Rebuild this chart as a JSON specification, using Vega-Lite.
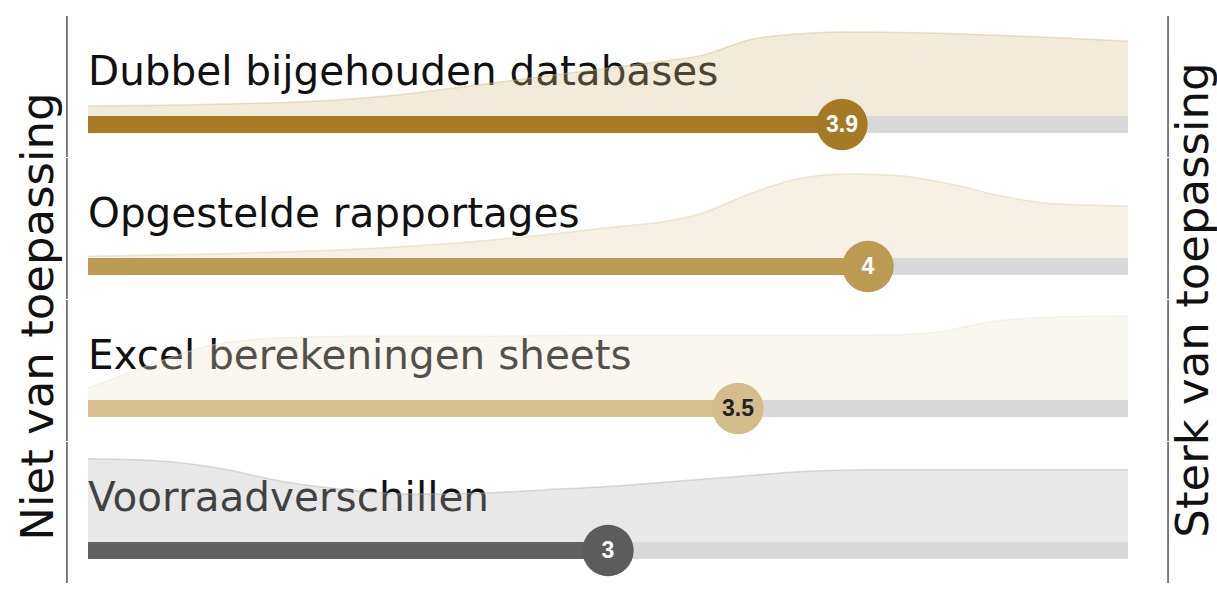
{
  "$schema": "https://vega.github.io/schema/vega-lite/v6.json",
  "background": "white",
  "padding": {"left": 17, "right": 0, "top": 15, "bottom": 0},
  "title": {"text": "Niet van toepassing", "orient": "left", "anchor": "middle", "font": "DejaVu Sans", "fontSize": 45, "fontWeight": "normal", "color": "#111111", "offset": 4, "dx": -17},
  "data": {"values": [
    {"cat": "Dubbel bijgehouden databases", "kind": "d", "v": 1.0, "d": 0.12},
    {"cat": "Dubbel bijgehouden databases", "kind": "d", "v": 1.5, "d": 0.14},
    {"cat": "Dubbel bijgehouden databases", "kind": "d", "v": 2.0, "d": 0.2},
    {"cat": "Dubbel bijgehouden databases", "kind": "d", "v": 2.25, "d": 0.27},
    {"cat": "Dubbel bijgehouden databases", "kind": "d", "v": 2.5, "d": 0.37},
    {"cat": "Dubbel bijgehouden databases", "kind": "d", "v": 2.75, "d": 0.47},
    {"cat": "Dubbel bijgehouden databases", "kind": "d", "v": 3.0, "d": 0.57},
    {"cat": "Dubbel bijgehouden databases", "kind": "d", "v": 3.2, "d": 0.65},
    {"cat": "Dubbel bijgehouden databases", "kind": "d", "v": 3.36, "d": 0.72},
    {"cat": "Dubbel bijgehouden databases", "kind": "d", "v": 3.55, "d": 0.91},
    {"cat": "Dubbel bijgehouden databases", "kind": "d", "v": 3.74, "d": 0.98},
    {"cat": "Dubbel bijgehouden databases", "kind": "d", "v": 3.9, "d": 1.0},
    {"cat": "Dubbel bijgehouden databases", "kind": "d", "v": 4.2, "d": 0.99},
    {"cat": "Dubbel bijgehouden databases", "kind": "d", "v": 4.5, "d": 0.96},
    {"cat": "Dubbel bijgehouden databases", "kind": "d", "v": 4.75, "d": 0.93},
    {"cat": "Dubbel bijgehouden databases", "kind": "d", "v": 5.0, "d": 0.89},
    {"cat": "Opgestelde rapportages", "kind": "d", "v": 1.0, "d": 0.02},
    {"cat": "Opgestelde rapportages", "kind": "d", "v": 1.5, "d": 0.05},
    {"cat": "Opgestelde rapportages", "kind": "d", "v": 2.0, "d": 0.1},
    {"cat": "Opgestelde rapportages", "kind": "d", "v": 2.5, "d": 0.2},
    {"cat": "Opgestelde rapportages", "kind": "d", "v": 2.97, "d": 0.35},
    {"cat": "Opgestelde rapportages", "kind": "d", "v": 3.35, "d": 0.52},
    {"cat": "Opgestelde rapportages", "kind": "d", "v": 3.55, "d": 0.77},
    {"cat": "Opgestelde rapportages", "kind": "d", "v": 3.74, "d": 0.95},
    {"cat": "Opgestelde rapportages", "kind": "d", "v": 3.93, "d": 1.0},
    {"cat": "Opgestelde rapportages", "kind": "d", "v": 4.12, "d": 0.98},
    {"cat": "Opgestelde rapportages", "kind": "d", "v": 4.32, "d": 0.88},
    {"cat": "Opgestelde rapportages", "kind": "d", "v": 4.51, "d": 0.74},
    {"cat": "Opgestelde rapportages", "kind": "d", "v": 4.7, "d": 0.65},
    {"cat": "Opgestelde rapportages", "kind": "d", "v": 5.0, "d": 0.62},
    {"cat": "Excel berekeningen sheets", "kind": "d", "v": 1.0, "d": 0.14},
    {"cat": "Excel berekeningen sheets", "kind": "d", "v": 1.25, "d": 0.43},
    {"cat": "Excel berekeningen sheets", "kind": "d", "v": 1.5, "d": 0.67},
    {"cat": "Excel berekeningen sheets", "kind": "d", "v": 1.75, "d": 0.74},
    {"cat": "Excel berekeningen sheets", "kind": "d", "v": 2.0, "d": 0.76},
    {"cat": "Excel berekeningen sheets", "kind": "d", "v": 2.5, "d": 0.76},
    {"cat": "Excel berekeningen sheets", "kind": "d", "v": 3.0, "d": 0.77},
    {"cat": "Excel berekeningen sheets", "kind": "d", "v": 3.5, "d": 0.77},
    {"cat": "Excel berekeningen sheets", "kind": "d", "v": 4.0, "d": 0.77},
    {"cat": "Excel berekeningen sheets", "kind": "d", "v": 4.25, "d": 0.8},
    {"cat": "Excel berekeningen sheets", "kind": "d", "v": 4.45, "d": 0.92},
    {"cat": "Excel berekeningen sheets", "kind": "d", "v": 4.75, "d": 0.99},
    {"cat": "Excel berekeningen sheets", "kind": "d", "v": 5.0, "d": 1.0},
    {"cat": "Voorraadverschillen", "kind": "d", "v": 1.0, "d": 0.99},
    {"cat": "Voorraadverschillen", "kind": "d", "v": 1.25, "d": 0.97},
    {"cat": "Voorraadverschillen", "kind": "d", "v": 1.5, "d": 0.88},
    {"cat": "Voorraadverschillen", "kind": "d", "v": 1.75, "d": 0.72},
    {"cat": "Voorraadverschillen", "kind": "d", "v": 2.0, "d": 0.62},
    {"cat": "Voorraadverschillen", "kind": "d", "v": 2.25, "d": 0.57},
    {"cat": "Voorraadverschillen", "kind": "d", "v": 2.5, "d": 0.58},
    {"cat": "Voorraadverschillen", "kind": "d", "v": 2.75, "d": 0.62},
    {"cat": "Voorraadverschillen", "kind": "d", "v": 3.0, "d": 0.66},
    {"cat": "Voorraadverschillen", "kind": "d", "v": 3.25, "d": 0.72},
    {"cat": "Voorraadverschillen", "kind": "d", "v": 3.5, "d": 0.78},
    {"cat": "Voorraadverschillen", "kind": "d", "v": 3.75, "d": 0.84},
    {"cat": "Voorraadverschillen", "kind": "d", "v": 4.0, "d": 0.86},
    {"cat": "Voorraadverschillen", "kind": "d", "v": 4.5, "d": 0.86},
    {"cat": "Voorraadverschillen", "kind": "d", "v": 5.0, "d": 0.86},
    {"cat": "Dubbel bijgehouden databases", "kind": "s", "value": 3.9, "label": "3.9"},
    {"cat": "Opgestelde rapportages", "kind": "s", "value": 4.0, "label": "4"},
    {"cat": "Excel berekeningen sheets", "kind": "s", "value": 3.5, "label": "3.5"},
    {"cat": "Voorraadverschillen", "kind": "s", "value": 3.0, "label": "3"}
  ]},
  "facet": {
    "row": {
      "field": "cat", "type": "nominal",
      "sort": ["Dubbel bijgehouden databases", "Opgestelde rapportages", "Excel berekeningen sheets", "Voorraadverschillen"],
      "title": "Sterk van toepassing",
      "header": {"labels": false, "titleOrient": "right", "titleAngle": 270, "titleFont": "DejaVu Sans", "titleFontSize": 45, "titleFontWeight": "normal", "titleColor": "#111111", "titlePadding": -7}
    }
  },
  "spacing": {"row": -3},
  "spec": {
    "width": 1040,
    "height": 141,
    "layer": [
      {
        "transform": [{"filter": "datum.kind === 's'"}],
        "mark": {"type": "text", "align": "left", "baseline": "alphabetic", "font": "DejaVu Sans", "fontSize": 40.5, "color": "#111111"},
        "encoding": {
          "x": {"datum": 1, "type": "quantitative", "scale": {"domain": [1, 5], "nice": false, "zero": false}, "axis": null},
          "y": {"datum": 0.369, "type": "quantitative", "scale": {"domain": [-0.4881, 1.1905], "nice": false, "zero": false}, "axis": null},
          "text": {"field": "cat"}
        }
      },
      {
        "transform": [{"filter": "datum.kind === 'd'"}],
        "mark": {"type": "area", "interpolate": "monotone", "fillOpacity": 0.3},
        "encoding": {
          "x": {"field": "v", "type": "quantitative"},
          "y": {"field": "d", "type": "quantitative"},
          "y2": {"datum": 0},
          "color": {"field": "cat", "type": "nominal", "legend": null,
                    "scale": {"domain": ["Dubbel bijgehouden databases", "Opgestelde rapportages", "Excel berekeningen sheets", "Voorraadverschillen"], "range": ["#d4bc87", "#e1cda8", "#eee4d0", "#b2b2b2"]}}
        }
      },
      {
        "transform": [{"filter": "datum.kind === 'd'"}],
        "mark": {"type": "line", "interpolate": "monotone", "strokeWidth": 1.5, "opacity": 0.45},
        "encoding": {
          "x": {"field": "v", "type": "quantitative"},
          "y": {"field": "d", "type": "quantitative"},
          "color": {"field": "cat", "type": "nominal", "legend": null,
                    "scale": {"domain": ["Dubbel bijgehouden databases", "Opgestelde rapportages", "Excel berekeningen sheets", "Voorraadverschillen"], "range": ["#d4bc87", "#e1cda8", "#eee4d0", "#b2b2b2"]}}
        }
      },
      {
        "transform": [{"filter": "datum.kind === 's'"}],
        "mark": {"type": "rule", "color": "#3a3a3a", "strokeWidth": 1.3},
        "encoding": {
          "x": {"datum": 0.919, "type": "quantitative"},
          "y": {"datum": 1.1905, "type": "quantitative"},
          "y2": {"datum": -0.4881}
        }
      },
      {
        "transform": [{"filter": "datum.kind === 's'"}],
        "mark": {"type": "rule", "color": "#3a3a3a", "strokeWidth": 1.3},
        "encoding": {
          "x": {"datum": 5.154, "type": "quantitative"},
          "y": {"datum": 1.1905, "type": "quantitative"},
          "y2": {"datum": -0.4881}
        }
      },
      {
        "transform": [{"filter": "datum.kind === 's'"}],
        "mark": {"type": "rect", "color": "#d9d9d9"},
        "encoding": {
          "x": {"datum": 1, "type": "quantitative"},
          "x2": {"datum": 5},
          "y": {"datum": 0, "type": "quantitative"},
          "y2": {"datum": -0.2024}
        }
      },
      {
        "transform": [{"filter": "datum.kind === 's'"}],
        "mark": {"type": "rect"},
        "encoding": {
          "x": {"field": "value", "type": "quantitative"},
          "x2": {"datum": 1},
          "y": {"datum": 0, "type": "quantitative"},
          "y2": {"datum": -0.2024},
          "color": {"field": "cat", "type": "nominal", "legend": null,
                    "scale": {"domain": ["Dubbel bijgehouden databases", "Opgestelde rapportages", "Excel berekeningen sheets", "Voorraadverschillen"], "range": ["#a87b27", "#bd9b55", "#d8c08e", "#616161"]}}
        }
      },
      {
        "transform": [{"filter": "datum.kind === 's'"}],
        "mark": {"type": "circle", "size": 2640, "opacity": 1},
        "encoding": {
          "x": {"field": "value", "type": "quantitative"},
          "y": {"datum": -0.1012, "type": "quantitative"},
          "color": {"field": "cat", "type": "nominal", "legend": null,
                    "scale": {"domain": ["Dubbel bijgehouden databases", "Opgestelde rapportages", "Excel berekeningen sheets", "Voorraadverschillen"], "range": ["#a67926", "#bc9a54", "#d5bd8b", "#5c5c5c"]}}
        }
      },
      {
        "transform": [{"filter": "datum.kind === 's'"}],
        "mark": {"type": "text", "align": "center", "baseline": "middle", "font": "Liberation Sans", "fontSize": 23, "fontWeight": "bold"},
        "encoding": {
          "x": {"field": "value", "type": "quantitative"},
          "y": {"datum": -0.1012, "type": "quantitative"},
          "text": {"field": "label"},
          "color": {"field": "cat", "type": "nominal", "legend": null,
                    "scale": {"domain": ["Dubbel bijgehouden databases", "Opgestelde rapportages", "Excel berekeningen sheets", "Voorraadverschillen"], "range": ["#ffffff", "#ffffff", "#222222", "#ffffff"]}}
        }
      }
    ],
    "resolve": {"scale": {"color": "independent"}}
  },
  "config": {"view": {"stroke": null}, "axis": {"domain": false, "ticks": false, "labels": false, "grid": false, "title": null}}
}
